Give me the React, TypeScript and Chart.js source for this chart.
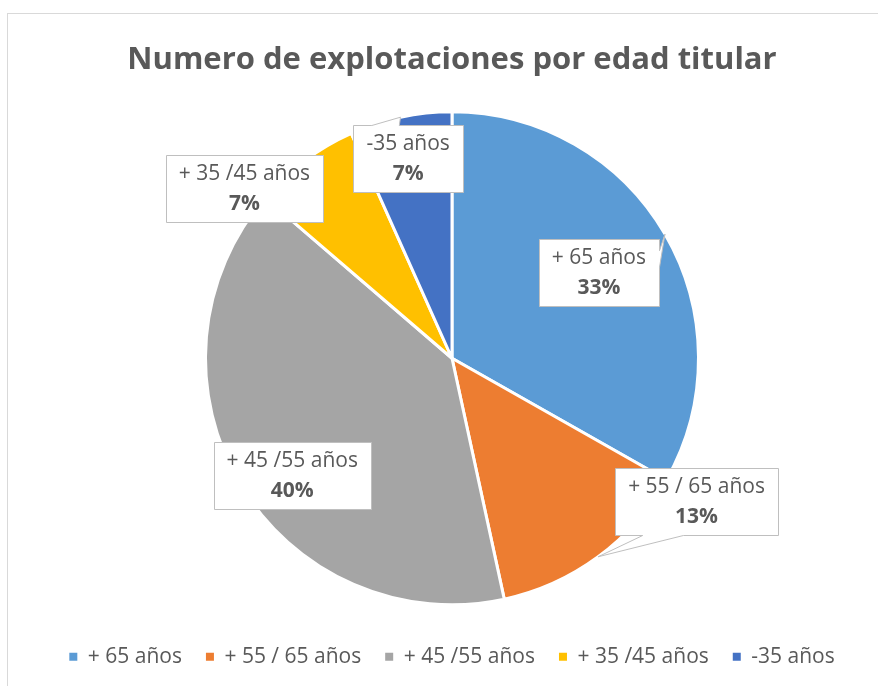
import React, { useEffect, useRef } from "react";
import { Chart, registerables } from "chart.js";

Chart.register(...registerables);

// ---- data ----
const categories = ["+ 65 años", "+ 55 / 65 años", "+ 45 /55 años", "+ 35 /45 años", "-35 años"];
const shares = [33.2, 13.4, 39.7, 7.0, 6.7];
const sliceColors = ["#5B9BD5", "#ED7D31", "#A5A5A5", "#FFC000", "#4472C4"];
const chartTitle = "Numero de explotaciones por edad titular";

// ---- style: label box centres, in units of the pie radius from its centre ----
const labelOffsetX = [0.596, 0.992, -0.648, -0.842, -0.178];
const labelOffsetY = [-0.348, 0.583, 0.476, -0.689, -0.812];

const FONT = "'Open Sans', 'Noto Sans', sans-serif";
const TEXT = "#595959";
const LABEL_SIZE = 21;
const TITLE_SIZE = 31;

const calloutPlugin = {
  id: "callouts",
  afterDatasetsDraw(chart: any) {
    const ctx: CanvasRenderingContext2D = chart.ctx;
    const meta = chart.getDatasetMeta(0);
    const data = chart.data.datasets[0].data as number[];
    const total = data.reduce((a, b) => a + b, 0);
    ctx.save();
    meta.data.forEach((arc: any, i: number) => {
      const { x, y, startAngle, endAngle, outerRadius } = arc.getProps(
        ["x", "y", "startAngle", "endAngle", "outerRadius"],
        true
      );
      const mid = (startAngle + endAngle) / 2;
      const tipX = x + Math.cos(mid) * outerRadius;
      const tipY = y + Math.sin(mid) * outerRadius;
      const cx = x + labelOffsetX[i] * outerRadius;
      const cy = y + labelOffsetY[i] * outerRadius;
      const name = String(chart.data.labels[i]);
      const pct = Math.round((data[i] / total) * 100) + "%";
      ctx.font = `${LABEL_SIZE}px ${FONT}`;
      const w1 = ctx.measureText(name).width;
      ctx.font = `bold ${LABEL_SIZE}px ${FONT}`;
      const w2 = ctx.measureText(pct).width;
      const bw = Math.max(w1, w2) + 26;
      const bh = 67;
      const L = Math.round(cx - bw / 2) + 0.5;
      const R = Math.round(cx + bw / 2) + 0.5;
      const T = Math.round(cy - bh / 2) + 0.5;
      const B = Math.round(cy + bh / 2) + 0.5;
      const corners = [
        [L, T],
        [R, T],
        [R, B],
        [L, B],
      ];
      const inside = tipX >= L && tipX <= R && tipY >= T && tipY <= B;
      let edge = -1;
      if (!inside) {
        const ox = tipX < L ? L - tipX : tipX > R ? tipX - R : 0;
        const oy = tipY < T ? T - tipY : tipY > B ? tipY - B : 0;
        if (ox > oy) edge = tipX > R ? 1 : 3;
        else edge = tipY < T ? 0 : 2;
      }
      ctx.beginPath();
      for (let k = 0; k < 4; k++) {
        const a = corners[k];
        const b = corners[(k + 1) % 4];
        if (k === 0) ctx.moveTo(a[0], a[1]);
        if (k === edge) {
          const da = Math.hypot(tipX - a[0], tipY - a[1]);
          const db = Math.hypot(tipX - b[0], tipY - b[1]);
          const t1 = da <= db ? 2 / 12 : 7 / 12;
          const t2 = da <= db ? 5 / 12 : 10 / 12;
          ctx.lineTo(a[0] + (b[0] - a[0]) * t1, a[1] + (b[1] - a[1]) * t1);
          ctx.lineTo(tipX, tipY);
          ctx.lineTo(a[0] + (b[0] - a[0]) * t2, a[1] + (b[1] - a[1]) * t2);
        }
        ctx.lineTo(b[0], b[1]);
      }
      ctx.closePath();
      ctx.fillStyle = "#FFFFFF";
      ctx.fill();
      ctx.strokeStyle = "#BFBFBF";
      ctx.lineWidth = 1;
      ctx.stroke();

      ctx.fillStyle = TEXT;
      ctx.textAlign = "center";
      ctx.textBaseline = "middle";
      ctx.font = `${LABEL_SIZE}px ${FONT}`;
      ctx.fillText(name, cx, cy - 14.5);
      ctx.font = `bold ${LABEL_SIZE}px ${FONT}`;
      ctx.fillText(pct, cx, cy + 15.5);
    });
    ctx.restore();
  },
};

export default function App() {
  const canvasRef = useRef<HTMLCanvasElement | null>(null);

  useEffect(() => {
    if (!canvasRef.current) return;
    const baseGen = (Chart as any).overrides.doughnut.plugins.legend.labels.generateLabels;
    const titleLine = TITLE_SIZE * 1.2;
    const titleTop = 43 + 3 - titleLine / 2;
    const titleBottom = 94.25 - 14 - titleTop - titleLine;
    const chart = new Chart(canvasRef.current, {
      type: "pie",
      data: {
        labels: categories,
        datasets: [
          {
            data: shares,
            backgroundColor: sliceColors,
            borderColor: "#FFFFFF",
            borderWidth: 3,
          },
        ],
      },
      options: {
        responsive: false,
        animation: false,
        events: [],
        radius: 246.5,
        layout: { padding: { top: 0, bottom: 8.75, left: 0, right: 0 } },
        plugins: {
          title: {
            display: true,
            text: chartTitle,
            color: TEXT,
            font: { family: FONT, size: TITLE_SIZE, weight: "bold" },
            padding: { top: titleTop, bottom: titleBottom },
          },
          legend: {
            position: "bottom",
            labels: {
              usePointStyle: true,
              pointStyle: "rect",
              boxWidth: 8,
              boxHeight: 8,
              padding: 24,
              color: TEXT,
              font: { family: FONT, size: LABEL_SIZE },
              generateLabels: (c: any) =>
                baseGen(c).map((l: any) => ({ ...l, lineWidth: 0, fontColor: TEXT })),
            },
          },
          tooltip: { enabled: false },
        },
      } as any,
      plugins: [calloutPlugin],
    });
    let alive = true;
    (document as any).fonts?.ready?.then(() => {
      if (alive) chart.update();
    });
    return () => {
      alive = false;
      chart.destroy();
    };
  }, []);

  return (
    <div
      style={{
        position: "absolute",
        left: 0,
        top: 0,
        width: 878,
        height: 686,
        overflow: "hidden",
        background: "#FFFFFF",
      }}
    >
      <div
        style={{
          position: "absolute",
          left: 7,
          top: 13,
          width: 888,
          height: 700,
          border: "1px solid #D9D9D9",
          background: "#FFFFFF",
        }}
      >
        <canvas ref={canvasRef} width={888} height={672} style={{ display: "block" }} />
      </div>
    </div>
  );
}
